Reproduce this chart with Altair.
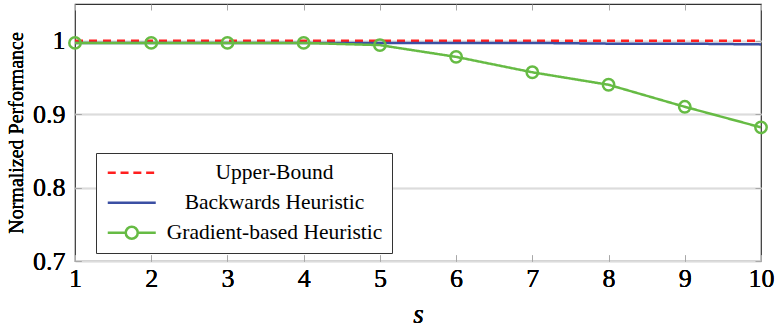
import altair as alt
import pandas as pd

s_values = [1, 2, 3, 4, 5, 6, 7, 8, 9, 10]
upper_bound = [1.0, 1.0, 1.0, 1.0, 1.0, 1.0, 1.0, 1.0, 1.0, 1.0]
backwards = [0.997, 0.997, 0.997, 0.997, 0.997, 0.997, 0.997, 0.996, 0.996, 0.995]
gradient = [0.997, 0.997, 0.997, 0.997, 0.994, 0.978, 0.957, 0.940, 0.910, 0.882]
series_names = ["Upper-Bound", "Backwards Heuristic", "Gradient-based Heuristic"]
series_colors = ["#ff1f1f", "#3b4fa3", "#66bb44"]
series_dash = [[8, 6], [1, 0], [1, 0]]
y_ticks = [0.7, 0.8, 0.9, 1.0]
legend_paths = [
    "M-1,0L0,0M0.6,0L1.6,0M2.2,0L3.2,0M3.8,0L4.8,0",
    "M-1,0L5,0",
    "M-1,0L1.25,0M2.75,0L5,0M2.75,0A0.75,0.75,0,1,1,1.25,0A0.75,0.75,0,1,1,2.75,0",
]

rows = []
for name, vals in zip(series_names, [upper_bound, backwards, gradient]):
    for s, v in zip(s_values, vals):
        rows.append({"s": s, "value": v, "series": name})
df = pd.DataFrame(rows)

FONT = "Liberation Serif, DejaVu Serif, serif"
TICK = "#a8a8a8"
x_scale = alt.Scale(domain=[1, 10], nice=False)
y_scale = alt.Scale(domain=[0.7, 1.05], nice=False, zero=False)

x_main = alt.X("s:Q", scale=x_scale, axis=alt.Axis(
    orient="bottom", values=s_values, offset=-6, tickSize=6, tickColor=TICK,
    domain=False, grid=False, labelFont=FONT, labelFontSize=26, labelColor="black",
    labelFontWeight="normal", labelFlush=False, labelPadding=4, title="s", titleFont=FONT,
    titleFontSize=27, titleFontStyle="italic", titleFontWeight="normal", titleColor="black",
    titlePadding=10))
y_main = alt.Y("value:Q", scale=y_scale, axis=alt.Axis(
    orient="left", values=y_ticks, offset=-6, tickSize=6, tickColor=TICK,
    domain=False, grid=True, gridColor="#dcdcdc", gridWidth=1.3, format="~g",
    labelFont=FONT, labelFontSize=26, labelColor="black", labelFontWeight="normal",
    labelFlush=False, labelPadding=10,
    title="Normalized Performance", titleFont=FONT, titleFontSize=20,
    titleFontWeight="normal", titleColor="black", titlePadding=6))

line_layers = []
for name, col, dash in zip(series_names, series_colors, series_dash):
    line_layers.append(
        alt.Chart(df).transform_filter(alt.datum.series == name)
        .mark_line(strokeWidth=2.5, color=col, strokeDash=dash)
        .encode(x=x_main, y=y_main)
    )

points = alt.Chart(df).transform_filter(
    alt.datum.series == "Gradient-based Heuristic"
).mark_point(shape="circle", filled=False, size=130, strokeWidth=2.5, color="#66bb44", opacity=1).encode(
    x=alt.X("s:Q", scale=x_scale, axis=alt.Axis(
        orient="top", values=s_values, offset=-6, tickSize=6, tickColor=TICK,
        domain=False, grid=False, labels=False, title=None)),
    y=alt.Y("value:Q", scale=y_scale, axis=alt.Axis(
        orient="right", values=y_ticks, offset=-6, tickSize=6, tickColor=TICK,
        domain=False, grid=False, labels=False, title=None)),
)

leg = alt.Legend(
    orient="none", legendX=21, legendY=149, title=None, strokeColor="#333333",
    fillColor="white", padding=9, labelFont=FONT, labelFontSize=21.5, labelColor="black",
    labelAlign="center", labelOffset=148, labelLimit=400, symbolSize=256,
    symbolStrokeWidth=2.5, rowPadding=7, cornerRadius=0)

legend_layer = alt.Chart(df).transform_filter("false").mark_point(
    filled=False, strokeWidth=2.5, opacity=1
).encode(
    color=alt.Color("series:N", scale=alt.Scale(domain=series_names, range=series_colors), legend=leg),
    shape=alt.Shape("series:N", scale=alt.Scale(domain=series_names, range=legend_paths), legend=leg),
)

chart = alt.layer(*line_layers, points, legend_layer).resolve_axis(
    x="independent", y="independent"
).properties(
    width=686, height=257,
    autosize=alt.AutoSizeParams(type="none"),
    padding={"left": 75, "top": 4, "right": 16, "bottom": 68},
).configure_view(stroke="#333333", strokeWidth=1.2)

chart.save("out.html", embed_options={"renderer": "svg", "actions": False})
